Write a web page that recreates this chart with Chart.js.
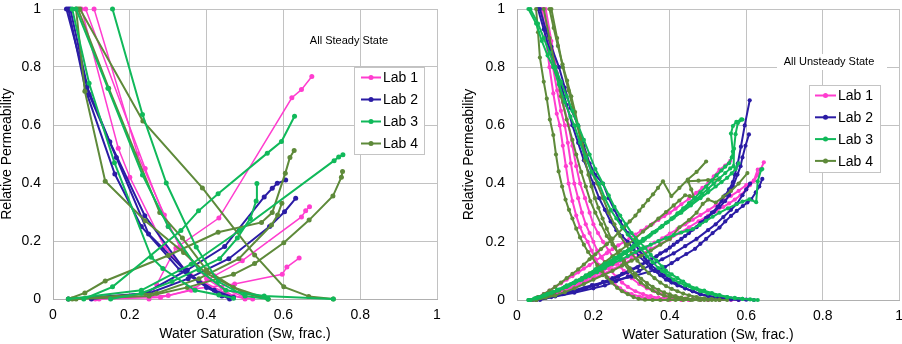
<!DOCTYPE html>
<html><head><meta charset="utf-8">
<script src="https://cdn.jsdelivr.net/npm/chart.js@4.4.1/dist/chart.umd.min.js"></script>
<style>
html,body{margin:0;padding:0;background:#fff;overflow:hidden;width:902px;height:344px;}
#w{position:relative;width:902px;height:344px;overflow:hidden;}
canvas{position:absolute;}
</style></head><body>
<div id="w"><canvas id="c1" width="461" height="354" style="left:0;top:-10px"></canvas><canvas id="c2" width="461" height="354" style="left:451px;top:-10px"></canvas></div>
<script>
// ---------- axis ticks / labels ----------
const tickLabels = ['0','0.2','0.4','0.6','0.8','1'];
const xTitle = 'Water Saturation (Sw, frac.)';
const yTitle = 'Relative Permeability';
const labNames = ['Lab 1','Lab 2','Lab 3','Lab 4'];
const labColors = ['#FF3DCF','#2B1CA5','#10B95A','#5E8A3A'];
const panelTitles = ['All Steady State','All Unsteady State'];

// ---------- Steady state (left) ----------
// Lab 1
const ssL1w1 = [[0.25,0],[0.27,0.05],[0.32,0.176],[0.432,0.279],[0.622,0.694],[0.647,0.722],[0.674,0.767]];
const ssL1w2 = [[0.12,0],[0.28,0.005],[0.36,0.03],[0.42,0.08],[0.493,0.132],[0.647,0.283],[0.658,0.304],[0.668,0.318]];
const ssL1w3 = [[0.11,0],[0.30,0.012],[0.37,0.035],[0.473,0.052],[0.597,0.085],[0.609,0.11],[0.641,0.141]];
const ssL1o1 = [[0.074,1],[0.17,0.52],[0.20,0.42],[0.29,0.18],[0.36,0.08],[0.45,0.02],[0.50,0]];
const ssL1o2 = [[0.107,1],[0.22,0.50],[0.29,0.29],[0.33,0.18],[0.40,0.07],[0.47,0.01],[0.52,0]];
const ssL1o3 = [[0.085,1],[0.24,0.45],[0.30,0.25],[0.38,0.10],[0.44,0.04],[0.50,0.005]];
// Lab 2
const ssL2o1 = [[0.035,1],[0.089,0.731],[0.148,0.542],[0.239,0.287],[0.344,0.098],[0.40,0.04],[0.46,0]];
const ssL2o2 = [[0.045,1],[0.094,0.705],[0.165,0.488],[0.249,0.224],[0.354,0.085],[0.42,0.03],[0.47,0.005]];
const ssL2o3 = [[0.04,1],[0.085,0.72],[0.161,0.431],[0.23,0.25],[0.33,0.10],[0.38,0.06],[0.44,0.01]];
const ssL2w1 = [[0.10,0],[0.24,0.02],[0.35,0.10],[0.447,0.181],[0.55,0.352],[0.571,0.382],[0.584,0.399],[0.606,0.41]];
const ssL2w2 = [[0.04,0],[0.25,0.02],[0.352,0.07],[0.458,0.139],[0.564,0.25],[0.603,0.301],[0.632,0.347]];
// Lab 3
const ssL3o1 = [[0.155,1],[0.233,0.636],[0.295,0.40],[0.373,0.179],[0.43,0.06],[0.50,0.01],[0.56,0]];
const ssL3o2 = [[0.05,1],[0.094,0.744],[0.16,0.47],[0.256,0.144],[0.286,0.105],[0.37,0.03],[0.432,0.014],[0.47,0.003]];
const ssL3o3 = [[0.06,1],[0.143,0.727],[0.233,0.428],[0.30,0.25],[0.38,0.10],[0.45,0.03],[0.55,0.01],[0.73,0]];
const ssL3w1 = [[0.08,0],[0.155,0.042],[0.333,0.236],[0.379,0.304],[0.43,0.363],[0.558,0.503],[0.595,0.543],[0.629,0.63]];
const ssL3w2 = [[0.04,0],[0.23,0.03],[0.36,0.12],[0.486,0.236],[0.732,0.477],[0.744,0.49],[0.755,0.497]];
const ssL3w3 = [[0.15,0],[0.23,0.02],[0.31,0.06],[0.434,0.139],[0.48,0.21],[0.514,0.278],[0.529,0.338],[0.531,0.398]];
// Lab 4
const ssL4o1 = [[0.06,1],[0.083,0.716],[0.136,0.406],[0.24,0.27],[0.34,0.16],[0.40,0.088],[0.50,0.02],[0.56,0]];
const ssL4o2 = [[0.07,1],[0.234,0.614],[0.389,0.383],[0.525,0.152],[0.601,0.042],[0.666,0.009],[0.73,0]];
const ssL4o3 = [[0.065,1],[0.145,0.727],[0.278,0.298],[0.337,0.21],[0.40,0.10],[0.47,0.04],[0.56,0]];
const ssL4w1 = [[0.04,0],[0.083,0.021],[0.136,0.062],[0.30,0.15],[0.43,0.23],[0.543,0.264],[0.571,0.298],[0.605,0.434],[0.617,0.488],[0.628,0.512]];
const ssL4w2 = [[0.06,0],[0.25,0.01],[0.35,0.04],[0.47,0.085],[0.525,0.122],[0.601,0.194],[0.667,0.272],[0.729,0.355],[0.751,0.42],[0.754,0.44]];
const ssL4w3 = [[0.05,0],[0.27,0.02],[0.38,0.07],[0.484,0.139],[0.569,0.255],[0.585,0.29],[0.596,0.33]];

// ---------- Unsteady state (right) ----------
// Lab 1
const usL1o1 = [[0.065,1],[0.075,0.9],[0.085,0.8],[0.095,0.71],[0.104,0.64],[0.112,0.6],[0.12,0.53],[0.128,0.46],[0.135,0.4],[0.145,0.34],[0.155,0.29],[0.165,0.25],[0.175,0.22],[0.185,0.2],[0.195,0.17],[0.205,0.14],[0.215,0.12],[0.225,0.1],[0.24,0.075],[0.255,0.055],[0.27,0.04],[0.28,0.03],[0.30,0.02],[0.32,0.012],[0.34,0.007],[0.36,0.004],[0.38,0.002],[0.40,0],[0.43,0],[0.45,0]];
const usL1o2 = [[0.07,1],[0.082,0.9],[0.094,0.8],[0.105,0.72],[0.115,0.65],[0.125,0.6],[0.133,0.54],[0.141,0.47],[0.15,0.4],[0.16,0.35],[0.17,0.3],[0.18,0.26],[0.19,0.23],[0.20,0.2],[0.21,0.17],[0.222,0.145],[0.234,0.12],[0.245,0.1],[0.26,0.08],[0.275,0.06],[0.29,0.045],[0.31,0.03],[0.33,0.02],[0.35,0.013],[0.37,0.008],[0.39,0.005],[0.41,0.003],[0.43,0.001],[0.45,0],[0.48,0],[0.50,0]];
const usL1o3 = [[0.075,1],[0.09,0.89],[0.105,0.78],[0.12,0.68],[0.135,0.6],[0.145,0.53],[0.155,0.46],[0.165,0.4],[0.178,0.35],[0.19,0.3],[0.2,0.26],[0.212,0.23],[0.225,0.2],[0.24,0.17],[0.255,0.14],[0.27,0.115],[0.28,0.1],[0.30,0.075],[0.32,0.055],[0.34,0.04],[0.36,0.03],[0.38,0.02],[0.40,0.013],[0.42,0.008],[0.44,0.005],[0.46,0.003],[0.48,0.002],[0.50,0],[0.53,0],[0.56,0],[0.58,0]];
const usL1w1 = [[0.04,0],[0.06,0.008],[0.08,0.016],[0.10,0.025],[0.12,0.035],[0.14,0.046],[0.16,0.058],[0.18,0.07],[0.20,0.083],[0.22,0.096],[0.24,0.11],[0.26,0.124],[0.28,0.138],[0.30,0.152],[0.32,0.167],[0.34,0.182],[0.36,0.197],[0.38,0.212],[0.40,0.228],[0.42,0.244],[0.44,0.26],[0.46,0.276],[0.48,0.292],[0.50,0.308],[0.52,0.325],[0.54,0.342],[0.56,0.358],[0.58,0.375],[0.60,0.395],[0.62,0.41],[0.63,0.43],[0.638,0.45],[0.646,0.473]];
const usL1w2 = [[0.04,0],[0.055,0.01],[0.07,0.02],[0.085,0.032],[0.10,0.045],[0.115,0.057],[0.13,0.07],[0.145,0.082],[0.16,0.095],[0.175,0.108],[0.19,0.12],[0.205,0.134],[0.22,0.148],[0.235,0.161],[0.25,0.175],[0.265,0.188],[0.28,0.2],[0.295,0.213],[0.31,0.225],[0.325,0.238],[0.34,0.25],[0.355,0.262],[0.37,0.275],[0.385,0.288],[0.40,0.3],[0.415,0.314],[0.43,0.329],[0.45,0.348],[0.469,0.368],[0.485,0.385],[0.50,0.4],[0.515,0.425],[0.53,0.448],[0.545,0.462],[0.558,0.478]];
const usL1w3 = [[0.05,0],[0.075,0.01],[0.10,0.02],[0.125,0.032],[0.15,0.045],[0.175,0.06],[0.20,0.075],[0.225,0.09],[0.25,0.105],[0.275,0.122],[0.30,0.14],[0.325,0.157],[0.35,0.175],[0.375,0.192],[0.40,0.21],[0.425,0.23],[0.45,0.25],[0.475,0.27],[0.50,0.29],[0.52,0.305],[0.54,0.32],[0.555,0.332],[0.57,0.345],[0.585,0.36],[0.60,0.38],[0.61,0.395],[0.62,0.41],[0.63,0.448]];
// Lab 2
const usL2o1 = [[0.055,1],[0.07,0.93],[0.085,0.86],[0.10,0.8],[0.115,0.74],[0.13,0.67],[0.145,0.6],[0.16,0.54],[0.175,0.48],[0.19,0.43],[0.20,0.4],[0.215,0.35],[0.23,0.31],[0.245,0.27],[0.26,0.24],[0.275,0.22],[0.29,0.2],[0.305,0.175],[0.32,0.15],[0.335,0.13],[0.35,0.11],[0.36,0.1],[0.375,0.085],[0.39,0.07],[0.405,0.06],[0.42,0.05],[0.44,0.04],[0.46,0.03],[0.48,0.02],[0.50,0.015],[0.52,0.01],[0.54,0.007],[0.56,0.005],[0.58,0.003],[0.60,0.001],[0.62,0]];
const usL2o2 = [[0.06,1],[0.075,0.93],[0.09,0.87],[0.11,0.8],[0.125,0.73],[0.14,0.66],[0.16,0.6],[0.175,0.53],[0.19,0.47],[0.205,0.43],[0.225,0.4],[0.24,0.35],[0.255,0.31],[0.27,0.27],[0.29,0.23],[0.305,0.2],[0.32,0.17],[0.335,0.145],[0.35,0.12],[0.37,0.1],[0.385,0.085],[0.40,0.07],[0.42,0.055],[0.44,0.04],[0.46,0.03],[0.48,0.02],[0.50,0.013],[0.52,0.008],[0.54,0.004],[0.56,0.002],[0.58,0]];
const usL2w1 = [[0.05,0],[0.075,0.007],[0.10,0.015],[0.125,0.022],[0.15,0.03],[0.175,0.04],[0.20,0.05],[0.225,0.062],[0.25,0.075],[0.275,0.09],[0.30,0.105],[0.325,0.122],[0.35,0.14],[0.375,0.16],[0.40,0.18],[0.42,0.2],[0.44,0.22],[0.46,0.242],[0.48,0.265],[0.495,0.282],[0.51,0.3],[0.525,0.32],[0.535,0.34],[0.545,0.36],[0.555,0.38],[0.565,0.405],[0.57,0.43],[0.578,0.47],[0.586,0.527],[0.596,0.6],[0.609,0.686]];
const usL2w2 = [[0.06,0],[0.09,0.01],[0.12,0.02],[0.15,0.03],[0.18,0.04],[0.21,0.052],[0.24,0.065],[0.265,0.08],[0.29,0.095],[0.315,0.112],[0.34,0.13],[0.365,0.15],[0.39,0.17],[0.41,0.19],[0.43,0.21],[0.45,0.23],[0.47,0.25],[0.485,0.268],[0.50,0.285],[0.515,0.302],[0.53,0.32],[0.545,0.34],[0.555,0.36],[0.565,0.39],[0.577,0.431],[0.585,0.46],[0.59,0.49],[0.598,0.53],[0.607,0.569]];
const usL2w3 = [[0.04,0],[0.07,0.008],[0.10,0.015],[0.196,0.051],[0.30,0.08],[0.387,0.113],[0.405,0.127],[0.42,0.14],[0.443,0.158],[0.466,0.176],[0.48,0.193],[0.495,0.21],[0.512,0.23],[0.53,0.249],[0.545,0.27],[0.56,0.289],[0.575,0.306],[0.591,0.323],[0.603,0.335],[0.613,0.346],[0.625,0.37],[0.634,0.39],[0.642,0.416]];
const usL2w4 = [[0.05,0],[0.10,0.012],[0.15,0.025],[0.20,0.04],[0.23,0.05],[0.26,0.065],[0.29,0.08],[0.32,0.1],[0.35,0.12],[0.38,0.14],[0.41,0.16],[0.44,0.185],[0.47,0.21],[0.50,0.24],[0.52,0.26],[0.54,0.285],[0.56,0.31],[0.575,0.33],[0.59,0.36],[0.60,0.38],[0.61,0.40]];
// Lab 3
const usL3o1 = [[0.03,1],[0.05,0.95],[0.065,0.89],[0.08,0.84],[0.095,0.8],[0.11,0.74],[0.125,0.68],[0.14,0.63],[0.15,0.6],[0.165,0.54],[0.18,0.49],[0.195,0.44],[0.215,0.4],[0.23,0.35],[0.245,0.31],[0.26,0.28],[0.275,0.25],[0.29,0.225],[0.31,0.2],[0.325,0.175],[0.34,0.15],[0.355,0.13],[0.37,0.11],[0.38,0.1],[0.395,0.085],[0.41,0.07],[0.425,0.06],[0.44,0.05],[0.46,0.04],[0.48,0.03],[0.50,0.022],[0.52,0.016],[0.55,0.01],[0.57,0.006],[0.59,0.004],[0.61,0.002],[0.63,0]];
const usL3o2 = [[0.035,1],[0.055,0.95],[0.07,0.9],[0.085,0.85],[0.10,0.8],[0.115,0.75],[0.13,0.7],[0.145,0.65],[0.16,0.6],[0.175,0.55],[0.19,0.5],[0.205,0.45],[0.225,0.4],[0.24,0.36],[0.255,0.32],[0.27,0.29],[0.285,0.26],[0.30,0.23],[0.32,0.2],[0.335,0.18],[0.35,0.155],[0.365,0.135],[0.38,0.115],[0.39,0.1],[0.405,0.088],[0.42,0.075],[0.435,0.063],[0.45,0.05],[0.47,0.04],[0.49,0.032],[0.51,0.024],[0.53,0.017],[0.55,0.01],[0.57,0.007],[0.59,0.004],[0.62,0]];
const usL3w1 = [[0.03,0],[0.045,0.005],[0.06,0.01],[0.075,0.017],[0.09,0.025],[0.105,0.032],[0.12,0.04],[0.135,0.049],[0.15,0.058],[0.165,0.068],[0.18,0.078],[0.195,0.089],[0.21,0.1],[0.225,0.111],[0.24,0.123],[0.255,0.135],[0.27,0.148],[0.285,0.161],[0.30,0.175],[0.315,0.189],[0.33,0.203],[0.345,0.218],[0.36,0.233],[0.375,0.249],[0.39,0.265],[0.405,0.281],[0.42,0.298],[0.435,0.315],[0.45,0.333],[0.465,0.351],[0.48,0.37],[0.495,0.39],[0.51,0.41],[0.522,0.428],[0.535,0.445],[0.545,0.458],[0.555,0.47],[0.562,0.49],[0.565,0.51],[0.56,0.572],[0.565,0.598],[0.574,0.612],[0.587,0.621]];
const usL3w2 = [[0.035,0],[0.05,0.006],[0.065,0.012],[0.08,0.02],[0.095,0.028],[0.11,0.036],[0.125,0.045],[0.14,0.054],[0.155,0.064],[0.17,0.074],[0.185,0.085],[0.20,0.096],[0.215,0.107],[0.23,0.119],[0.245,0.131],[0.26,0.143],[0.275,0.156],[0.29,0.169],[0.305,0.182],[0.32,0.196],[0.335,0.21],[0.35,0.224],[0.365,0.238],[0.38,0.253],[0.395,0.268],[0.41,0.283],[0.425,0.299],[0.44,0.315],[0.455,0.331],[0.47,0.348],[0.485,0.365],[0.50,0.382],[0.515,0.4],[0.53,0.418],[0.545,0.436],[0.558,0.452],[0.567,0.46],[0.568,0.52],[0.572,0.57],[0.578,0.608],[0.59,0.62]];
const usL3w3 = [[0.03,0],[0.05,0.007],[0.07,0.015],[0.09,0.025],[0.11,0.035],[0.13,0.046],[0.15,0.058],[0.17,0.07],[0.19,0.083],[0.21,0.096],[0.23,0.11],[0.25,0.124],[0.27,0.138],[0.29,0.151],[0.31,0.165],[0.33,0.178],[0.35,0.19],[0.37,0.202],[0.39,0.213],[0.41,0.223],[0.43,0.232],[0.445,0.238],[0.46,0.244],[0.478,0.258],[0.495,0.272],[0.512,0.286],[0.53,0.3],[0.552,0.315],[0.574,0.329],[0.59,0.338],[0.608,0.346],[0.626,0.336],[0.63,0.408],[0.639,0.448],[0.642,0.45]];
const usL3w4 = [[0.035,0],[0.055,0.008],[0.08,0.02],[0.105,0.035],[0.13,0.05],[0.155,0.067],[0.18,0.085],[0.205,0.105],[0.23,0.125],[0.255,0.145],[0.28,0.165],[0.305,0.187],[0.33,0.21],[0.355,0.232],[0.38,0.255],[0.405,0.278],[0.43,0.3],[0.455,0.325],[0.48,0.35],[0.50,0.37],[0.52,0.39],[0.535,0.405],[0.55,0.42],[0.562,0.435],[0.572,0.45],[0.58,0.47]];
// Lab 4
const usL4o1 = [[0.05,1],[0.055,0.92],[0.06,0.833],[0.07,0.75],[0.078,0.692],[0.086,0.62],[0.095,0.567],[0.102,0.5],[0.109,0.442],[0.118,0.39],[0.127,0.345],[0.136,0.31],[0.145,0.28],[0.155,0.245],[0.165,0.215],[0.175,0.19],[0.186,0.165],[0.196,0.147],[0.21,0.12],[0.222,0.1],[0.235,0.078],[0.248,0.06],[0.262,0.042],[0.275,0.03],[0.29,0.02],[0.305,0.01],[0.318,0.004],[0.335,0.001],[0.355,0],[0.375,0],[0.395,0],[0.415,0],[0.435,0],[0.455,0]];
const usL4o2 = [[0.07,1],[0.085,0.9],[0.10,0.8],[0.115,0.7],[0.13,0.62],[0.145,0.55],[0.155,0.5],[0.168,0.44],[0.18,0.39],[0.192,0.34],[0.205,0.3],[0.22,0.26],[0.235,0.22],[0.25,0.19],[0.265,0.16],[0.28,0.135],[0.295,0.11],[0.31,0.09],[0.325,0.073],[0.34,0.058],[0.355,0.045],[0.37,0.035],[0.385,0.026],[0.40,0.019],[0.415,0.013],[0.43,0.008],[0.445,0.005],[0.46,0.003],[0.475,0.001],[0.49,0],[0.51,0],[0.53,0]];
const usL4o3 = [[0.085,1],[0.096,0.935],[0.107,0.873],[0.119,0.81],[0.131,0.754],[0.142,0.7],[0.152,0.646],[0.161,0.595],[0.17,0.535],[0.178,0.48],[0.187,0.43],[0.195,0.39],[0.204,0.35],[0.213,0.317],[0.224,0.28],[0.235,0.245],[0.246,0.212],[0.257,0.181],[0.268,0.152],[0.28,0.125],[0.294,0.1],[0.309,0.079],[0.324,0.06],[0.34,0.045],[0.355,0.033],[0.37,0.023],[0.385,0.015],[0.40,0.01],[0.42,0.006],[0.44,0.003],[0.46,0.001],[0.48,0],[0.50,0],[0.52,0]];
const usL4o4 = [[0.09,1],[0.105,0.9],[0.12,0.8],[0.135,0.72],[0.15,0.64],[0.165,0.56],[0.18,0.5],[0.195,0.44],[0.21,0.4],[0.225,0.35],[0.24,0.3],[0.255,0.26],[0.27,0.22],[0.285,0.19],[0.30,0.16],[0.315,0.135],[0.33,0.112],[0.345,0.092],[0.36,0.075],[0.375,0.06],[0.39,0.048],[0.405,0.038],[0.42,0.03],[0.435,0.022],[0.45,0.016],[0.47,0.01],[0.49,0.006],[0.51,0.003],[0.53,0.001],[0.55,0]];
const usL4w1 = [[0.04,0],[0.055,0.01],[0.07,0.02],[0.085,0.032],[0.10,0.045],[0.115,0.06],[0.13,0.075],[0.145,0.09],[0.16,0.105],[0.175,0.122],[0.19,0.14],[0.205,0.157],[0.22,0.175],[0.235,0.192],[0.25,0.21],[0.265,0.23],[0.28,0.25],[0.295,0.27],[0.31,0.29],[0.32,0.307],[0.33,0.323],[0.343,0.343],[0.356,0.363],[0.369,0.385],[0.382,0.408],[0.404,0.357],[0.425,0.385],[0.447,0.414],[0.47,0.44],[0.495,0.476]];
const usL4w2 = [[0.05,0],[0.07,0.01],[0.09,0.02],[0.11,0.032],[0.13,0.045],[0.15,0.06],[0.17,0.075],[0.19,0.092],[0.21,0.11],[0.23,0.13],[0.25,0.15],[0.27,0.17],[0.29,0.19],[0.31,0.212],[0.33,0.235],[0.35,0.257],[0.37,0.28],[0.39,0.302],[0.41,0.325],[0.425,0.342],[0.44,0.36],[0.452,0.357],[0.464,0.351],[0.456,0.38],[0.448,0.408],[0.475,0.41],[0.50,0.412],[0.527,0.414]];
const usL4w3 = [[0.05,0],[0.075,0.008],[0.10,0.015],[0.125,0.027],[0.15,0.04],[0.175,0.055],[0.20,0.07],[0.225,0.085],[0.25,0.1],[0.275,0.118],[0.30,0.135],[0.325,0.152],[0.35,0.17],[0.375,0.19],[0.40,0.21],[0.425,0.25],[0.45,0.275],[0.47,0.3],[0.486,0.33],[0.50,0.345],[0.52,0.335],[0.54,0.355],[0.56,0.375],[0.58,0.40],[0.603,0.436]];

// ---------- groupings ----------
const ssLab1 = [ssL1w1, ssL1w2, ssL1w3, ssL1o1, ssL1o2, ssL1o3];
const ssLab2 = [ssL2o1, ssL2o2, ssL2o3, ssL2w1, ssL2w2];
const ssLab3 = [ssL3o1, ssL3o2, ssL3o3, ssL3w1, ssL3w2, ssL3w3];
const ssLab4 = [ssL4o1, ssL4o2, ssL4o3, ssL4w1, ssL4w2, ssL4w3];
const usLab1 = [usL1o1, usL1o2, usL1o3, usL1w1, usL1w2, usL1w3];
const usLab2 = [usL2o1, usL2o2, usL2w1, usL2w2, usL2w3, usL2w4];
const usLab3 = [usL3o1, usL3o2, usL3w1, usL3w2, usL3w3, usL3w4];
const usLab4 = [usL4o1, usL4o2, usL4o3, usL4o4, usL4w1, usL4w2, usL4w3];

function buildSets(groups, lw, pr) {
  // draw order: dataset 0 on top
  const order = [2, 3, 1, 0];
  const out = [];
  order.forEach(gi => {
    groups[gi].forEach(arr => {
      out.push({
        data: arr, showLine: true, tension: 0, fill: false, clip: false,
        borderColor: labColors[gi], backgroundColor: labColors[gi],
        borderWidth: lw[gi], pointRadius: pr, pointBorderWidth: 0, pointHoverRadius: 0
      });
    });
  });
  return out;
}

function overlayPlugin(cfg) {
  return {
    id: 'overlay' + cfg.id,
    afterDraw(chart) {
      const ctx = chart.ctx;
      ctx.save();
      // panel caption
      ctx.font = '11px "Liberation Sans", Arial, sans-serif';
      ctx.textBaseline = 'middle';
      ctx.textAlign = 'center';
      if (cfg.capBox) {
        ctx.fillStyle = '#fff';
        ctx.fillRect(cfg.capBox[0], cfg.capBox[1], cfg.capBox[2], cfg.capBox[3]);
      }
      ctx.fillStyle = '#000';
      ctx.fillText(cfg.caption, cfg.capX, cfg.capY);
      // legend
      const b = cfg.leg;
      ctx.fillStyle = '#fff';
      ctx.fillRect(b.x, b.y, b.w, b.h);
      ctx.strokeStyle = '#c4c4c4';
      ctx.lineWidth = 1;
      ctx.strokeRect(b.x + 0.5, b.y + 0.5, b.w - 1, b.h - 1);
      ctx.font = '14px "Liberation Sans", Arial, sans-serif';
      ctx.textAlign = 'left';
      labNames.forEach((n, i) => {
        const yy = b.y0 + i * b.dy;
        ctx.strokeStyle = labColors[i];
        ctx.lineWidth = 2;
        ctx.beginPath(); ctx.moveTo(b.lx0, yy); ctx.lineTo(b.lx1, yy); ctx.stroke();
        ctx.fillStyle = labColors[i];
        ctx.beginPath(); ctx.arc((b.lx0 + b.lx1) / 2, yy, 2.5, 0, Math.PI * 2); ctx.fill();
        ctx.fillStyle = '#000';
        ctx.fillText(n, b.tx, yy + 1);
      });
      ctx.restore();
    }
  };
}

function makeChart(id, datasets, o) {
  const font = {family: '"Liberation Sans", Arial, sans-serif', size: 14, lineHeight: 1};
  return new Chart(document.getElementById(id), {
    type: 'scatter',
    data: {datasets},
    options: {
      responsive: false, animation: false,
      layout: {padding: {left: 0, top: 16, right: o.padRight, bottom: 0}},
      plugins: {legend: {display: false}, tooltip: {enabled: false}},
      scales: {
        x: {
          type: 'linear', min: 0, max: 1,
          ticks: {stepSize: 0.2, color: '#000', font, padding: o.xTickPad, maxRotation: 0,
                  callback: (v, i) => tickLabels[i]},
          grid: {color: '#c2c2c2', drawTicks: false, lineWidth: 1},
          border: {color: '#b0b0b0'},
          title: {display: true, text: xTitle, color: '#000', font, padding: {top: 0, bottom: o.xTitlePad}},
          afterFit: s => { s.height = o.xH; }
        },
        y: {
          type: 'linear', min: 0, max: 1,
          ticks: {stepSize: 0.2, color: '#000', font, padding: 12,
                  callback: (v, i) => tickLabels[i]},
          grid: {color: '#c2c2c2', drawTicks: false, lineWidth: 1},
          border: {color: '#b0b0b0'},
          title: {display: true, text: yTitle, color: '#000', font, padding: {top: o.yTitlePad, bottom: 0}},
          afterFit: s => { s.width = o.yW; }
        }
      }
    },
    plugins: [overlayPlugin(o.overlay)]
  });
}

makeChart('c1', buildSets([ssLab1, ssLab2, ssLab3, ssLab4], [1.5, 2, 2, 2], 2.5), {
  padRight: 24, xH: 45, yW: 53, xTickPad: 9, xTitlePad: 3, yTitlePad: 0,
  overlay: {id: 1, caption: panelTitles[0], capX: 349, capY: 51,
    leg: {x: 354, y: 77, w: 71, h: 88, y0: 87.5, dy: 22, lx0: 361, lx1: 381, tx: 383}}
});
makeChart('c2', buildSets([usLab1, usLab2, usLab3, usLab4], [2, 2, 2, 2], 2.1), {
  padRight: 12, xH: 44, yW: 66, xTickPad: 9, xTitlePad: 2, yTitlePad: 11,
  overlay: {id: 2, caption: panelTitles[1], capX: 378, capY: 72, capBox: [326, 64, 110, 16],
    leg: {x: 358, y: 95, w: 72, h: 88, y0: 105.5, dy: 21.8, lx0: 364, lx1: 385, tx: 387}}
});
</script>
</body></html>
